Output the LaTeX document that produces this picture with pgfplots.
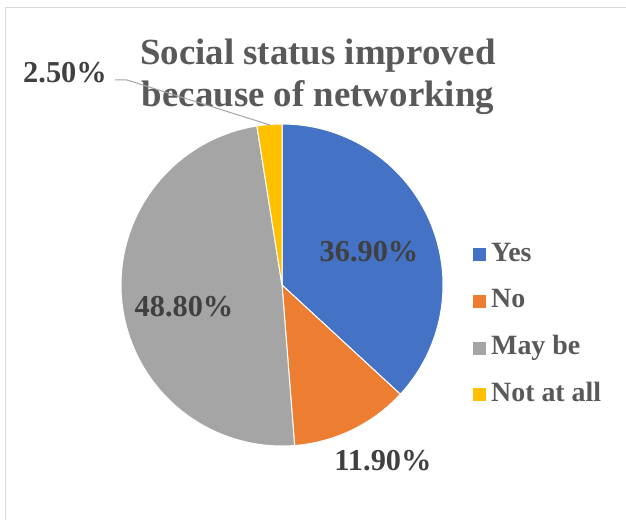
\documentclass[border=0pt]{standalone}
\usepackage{fontspec}
\setmainfont{Liberation Serif}
\usepackage{pgfplots}
\pgfplotsset{compat=1.18}
\definecolor{cYes}{HTML}{4472C4}
\definecolor{cNo}{HTML}{ED7D31}
\definecolor{cMay}{HTML}{A5A5A5}
\definecolor{cNot}{HTML}{FFC000}
\definecolor{ctitle}{HTML}{595959}
\definecolor{clab}{HTML}{404040}
\definecolor{cframe}{HTML}{D9D9D9}
\begin{document}
\begin{tikzpicture}
% shares (percent)
\def\vYes{36.9}\def\vNo{11.9}\def\vMay{48.8}\def\vNot{2.5}
\pgfmathsetmacro{\tot}{\vYes+\vNo+\vMay+\vNot}
\pgfmathsetmacro{\aA}{90}
\pgfmathsetmacro{\aB}{\aA-\vYes/\tot*360}
\pgfmathsetmacro{\aC}{\aB-\vNo/\tot*360}
\pgfmathsetmacro{\aD}{\aC-\vMay/\tot*360}
\pgfmathsetmacro{\aE}{\aD-\vNot/\tot*360}
\begin{axis}[
  x=1bp, y=1bp, xmin=0, xmax=626, ymin=0, ymax=520,
  anchor=south west, at={(0,0)},
  hide axis, clip=false,
  legend image code/.code={\fill[#1,draw=none] (0bp,-6.5bp) rectangle (13bp,6.5bp);},
  legend cell align=left,
  legend style={at={(axis cs:470,282)}, anchor=north west, draw=none, fill=none,
    font=\fontsize{28}{28}\selectfont\bfseries, text=ctitle,
    row sep=17.7bp, column sep=4bp,
    nodes={inner sep=1bp, text height=20bp, text depth=7bp}},
]
\addplot[fill=cYes, draw=white, line width=1bp, domain=\aB:\aA, samples=120]
  ({282+161*cos(x)},{235+161*sin(x)}) -- (axis cs:282,235) -- cycle;
\addplot[fill=cNo, draw=white, line width=1bp, domain=\aC:\aB, samples=60]
  ({282+161*cos(x)},{235+161*sin(x)}) -- (axis cs:282,235) -- cycle;
\addplot[fill=cMay, draw=white, line width=1bp, domain=\aD:\aC, samples=150]
  ({282+161*cos(x)},{235+161*sin(x)}) -- (axis cs:282,235) -- cycle;
\addplot[fill=cNot, draw=white, line width=1bp, domain=\aE:\aD, samples=20]
  ({282+161*cos(x)},{235+161*sin(x)}) -- (axis cs:282,235) -- cycle;
\legend{Yes,No,May be,Not at all}
% frame
\draw[cframe, line width=1bp] (axis cs:5,0) -- (axis cs:5,512) -- (axis cs:626,512);
% title
\node[align=center, font=\fontsize{37}{42}\selectfont\bfseries, text=ctitle] at (axis cs:318,443)
  {Social status improved\\because of networking};
% data labels
\node[font=\fontsize{30.5}{30}\selectfont\bfseries, text=clab] at (axis cs:369,268) {36.90\%};
\node[font=\fontsize{30.5}{30}\selectfont\bfseries, text=clab] at (axis cs:383,59) {11.90\%};
\node[font=\fontsize{30.5}{30}\selectfont\bfseries, text=clab] at (axis cs:184,213) {48.80\%};
\node[font=\fontsize{30.5}{30}\selectfont\bfseries, text=clab] at (axis cs:65,447) {2.50\%};
\draw[cMay, line width=1bp] (axis cs:115,440) -- (axis cs:127,440) -- (axis cs:270,395);
\end{axis}
\pgfresetboundingbox
\path (0,0) rectangle (626bp,520bp);
\end{tikzpicture}
\end{document}
